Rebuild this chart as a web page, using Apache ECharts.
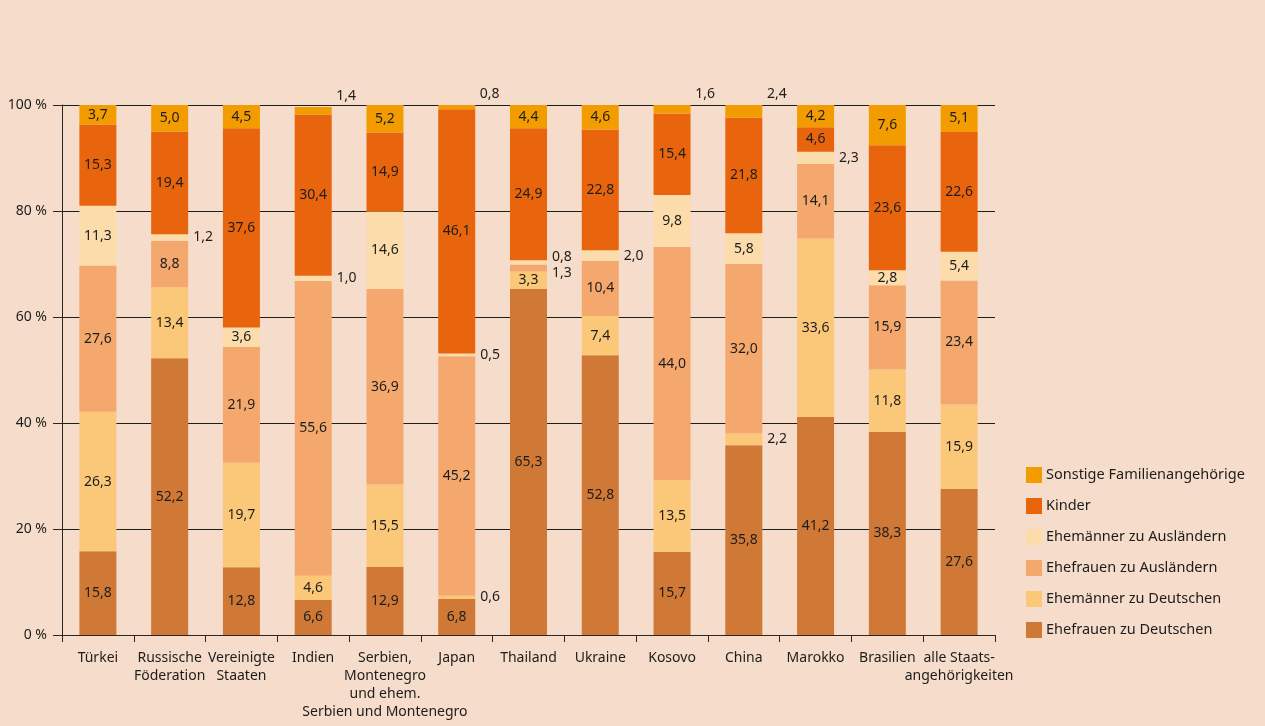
<!DOCTYPE html>
<html>
<head>
<meta charset="utf-8">
<script src="https://cdn.jsdelivr.net/npm/echarts@6/dist/echarts.min.js"></script>
<style>
html,body{margin:0;padding:0;background:#f5dccb;}
#chart{width:1265px;height:726px;}
</style>
</head>
<body>
<div id="chart"></div>
<script>
const categories = ['Türkei','Russische\nFöderation','Vereinigte\nStaaten','Indien','Serbien,\nMontenegro\nund ehem.\nSerbien und Montenegro','Japan','Thailand','Ukraine','Kosovo','China','Marokko','Brasilien','alle Staats-\nangehörigkeiten'];
const yTicks = [0,20,40,60,80,100];

const ehefrauenDeutsche  = [15.8,52.2,12.8,6.6,12.9,6.8,65.3,52.8,15.7,35.8,41.2,38.3,27.6];
const ehemaennerDeutsche = [26.3,13.4,19.7,4.6,15.5,0.6,3.3,7.4,13.5,2.2,33.6,11.8,15.9];
const ehefrauenAuslaender  = [27.6,8.8,21.9,55.6,36.9,45.2,1.3,10.4,44.0,32.0,14.1,15.9,23.4];
const ehemaennerAuslaender = [11.3,1.2,3.6,1.0,14.6,0.5,0.8,2.0,9.8,5.8,2.3,2.8,5.4];
const kinder   = [15.3,19.4,37.6,30.4,14.9,46.1,24.9,22.8,15.4,21.8,4.6,23.6,22.6];
const sonstige = [3.7,5.0,4.5,1.4,5.2,0.8,4.4,4.6,1.6,2.4,4.2,7.6,5.1];

const seriesDefs = [
  {name:'Ehefrauen zu Deutschen', data:ehefrauenDeutsche, color:'#d07936'},
  {name:'Ehemänner zu Deutschen', data:ehemaennerDeutsche, color:'#fbc87a'},
  {name:'Ehefrauen zu Ausländern', data:ehefrauenAuslaender, color:'#f4a86e'},
  {name:'Ehemänner zu Ausländern', data:ehemaennerAuslaender, color:'#fcdcab'},
  {name:'Kinder', data:kinder, color:'#e8650e'},
  {name:'Sonstige Familienangehörige', data:sonstige, color:'#f39c00'}
];

const FONT = '"Noto Sans", sans-serif';
const TXT = '#1d1d1b';
const fmt = v => v.toFixed(1).replace('.', ',');

// nudges for crowded outside labels (series index, category index) -> dy
const nudges = {'3_6': -5, '2_6': 5};

const series = seriesDefs.map((s, si) => {
  const isTop = si === seriesDefs.length - 1;
  return {
    name: s.name,
    type: 'bar',
    stack: 'total',
    barWidth: 37,
    itemStyle: {color: s.color},
    emphasis: {disabled: true},
    label: {
      show: true, position: 'inside', color: TXT, fontFamily: FONT, fontSize: 14,
      formatter: p => fmt(p.value)
    },
    data: s.data.map((v, ci) => {
      if (v >= 2.5) return v;
      if (isTop) {
        return {value: v, label: {position: 'top', distance: 4, offset: [33, 0]}};
      }
      const dy = nudges[si + '_' + ci] || 0;
      return {value: v, label: {position: 'right', distance: 5, offset: [0, dy]}};
    })
  };
});

const chart = echarts.init(document.getElementById('chart'), null, {renderer: 'canvas'});
chart.setOption({
  backgroundColor: '#f5dccb',
  animation: false,
  textStyle: {fontFamily: FONT},
  grid: {left: 62, right: 270, top: 105, bottom: 91},
  legend: {
    orient: 'vertical', left: 1026, top: 467, padding: 0,
    itemWidth: 16, itemHeight: 16, itemGap: 15,
    icon: 'rect',
    selectedMode: false,
    textStyle: {fontFamily: FONT, fontSize: 14.5, color: TXT, padding: [0,0,0,-1]},
    data: seriesDefs.map(s => s.name).reverse()
  },
  xAxis: {
    type: 'category',
    data: categories,
    axisLine: {lineStyle: {color: '#2b2622', width: 1}},
    axisTick: {show: true, length: 7, lineStyle: {color: '#2b2622'}},
    axisLabel: {interval: 0, color: TXT, fontFamily: FONT, fontSize: 14, lineHeight: 18, margin: 14}
  },
  yAxis: {
    type: 'value', min: yTicks[0], max: yTicks[yTicks.length-1], interval: 20,
    axisLine: {show: true, lineStyle: {color: '#2b2622'}},
    axisTick: {show: true, length: 9, lineStyle: {color: '#2b2622'}},
    splitLine: {lineStyle: {color: '#1d1d1b', width: 1}},
    axisLabel: {color: TXT, fontFamily: FONT, fontSize: 14, margin: 15, formatter: v => v + ' %'}
  },
  series: series
});
</script>
</body>
</html>
